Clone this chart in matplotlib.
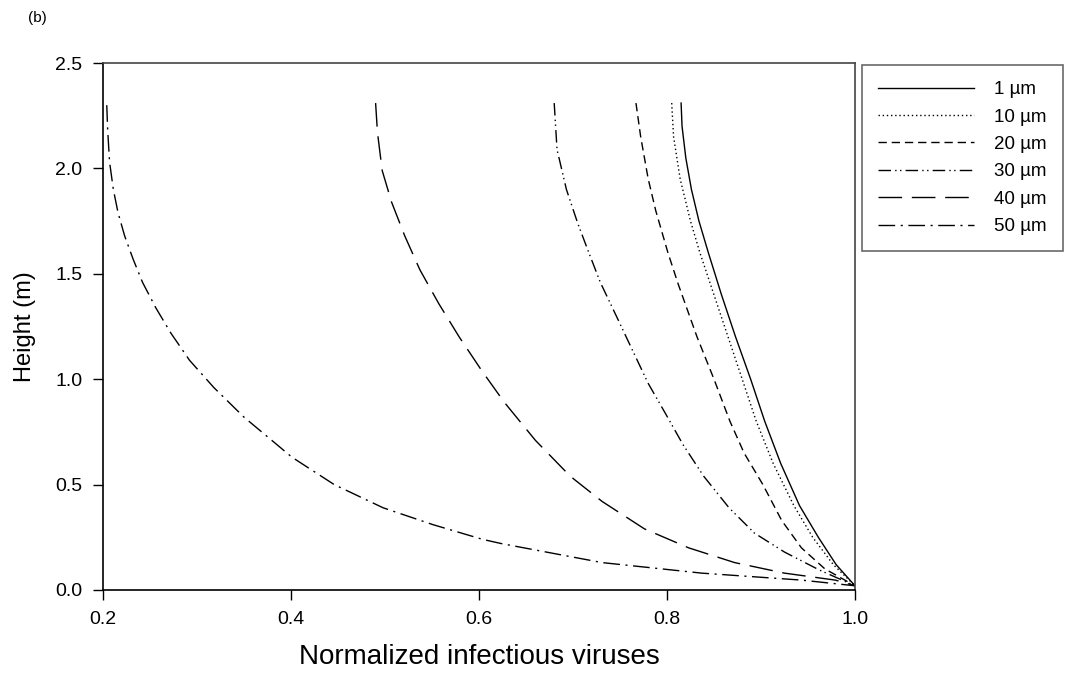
import matplotlib
matplotlib.use('Agg')
import matplotlib.pyplot as plt

plt.rcParams['font.family'] = ['Liberation Sans', 'DejaVu Sans']

labels = ['1 µm', '10 µm', '20 µm', '30 µm', '40 µm', '50 µm']

# (height, normalized infectious viruses)
h_1 = [2.31, 2.2, 2.05, 1.9, 1.75, 1.6, 1.4, 1.2, 1.0, 0.8, 0.6, 0.4, 0.25, 0.12, 0.02]
v_1 = [0.815, 0.816, 0.820, 0.826, 0.834, 0.844, 0.858, 0.873, 0.889, 0.904, 0.921, 0.941, 0.961, 0.980, 1.0]

h_10 = [2.31, 2.15, 1.95, 1.75, 1.6, 1.4, 1.2, 1.0, 0.8, 0.6, 0.4, 0.25, 0.12, 0.02]
v_10 = [0.805, 0.807, 0.814, 0.825, 0.835, 0.850, 0.865, 0.880, 0.895, 0.913, 0.935, 0.955, 0.977, 1.0]

h_20 = [2.31, 2.15, 1.95, 1.8, 1.6, 1.45, 1.2, 1.0, 0.8, 0.65, 0.5, 0.33, 0.2, 0.1, 0.02]
v_20 = [0.767, 0.772, 0.780, 0.788, 0.801, 0.812, 0.832, 0.850, 0.867, 0.882, 0.902, 0.922, 0.943, 0.968, 1.0]

h_30 = [2.31, 2.09, 1.9, 1.74, 1.61, 1.46, 1.31, 1.14, 0.98, 0.84, 0.69, 0.54, 0.39, 0.27, 0.18, 0.095, 0.02]
v_30 = [0.680, 0.683, 0.693, 0.705, 0.716, 0.729, 0.745, 0.763, 0.780, 0.798, 0.817, 0.839, 0.866, 0.893, 0.925, 0.962, 1.0]

h_40 = [2.31, 2.17, 1.99, 1.84, 1.68, 1.52, 1.36, 1.2, 1.04, 0.89, 0.71, 0.54, 0.42, 0.29, 0.2, 0.13, 0.08, 0.047, 0.02]
v_40 = [0.490, 0.492, 0.497, 0.507, 0.521, 0.537, 0.557, 0.579, 0.603, 0.627, 0.660, 0.697, 0.731, 0.776, 0.823, 0.872, 0.925, 0.979, 1.0]

h_50 = [2.30, 2.18, 2.03, 1.90, 1.79, 1.68, 1.57, 1.46, 1.34, 1.22, 1.09, 0.96, 0.82, 0.63, 0.50, 0.39, 0.31, 0.24, 0.22, 0.13, 0.08, 0.047, 0.02]
v_50 = [0.204, 0.205, 0.207, 0.211, 0.216, 0.223, 0.232, 0.242, 0.256, 0.272, 0.292, 0.318, 0.350, 0.401, 0.446, 0.498, 0.551, 0.604, 0.624, 0.731, 0.837, 0.943, 1.0]

heights = [h_1, h_10, h_20, h_30, h_40, h_50]
values = [v_1, v_10, v_20, v_30, v_40, v_50]
styles = ['-', (0, (1, 2)), (0, (6, 3.5)), (0, (9, 3, 1, 2.5, 1, 3)), (0, (17, 7)), (0, (12, 4, 1.5, 4))]

fig = plt.figure(figsize=(10.79, 6.74), dpi=100)
ax = fig.add_axes([103 / 1079, 1 - 590 / 674, (855 - 103) / 1079, (590 - 63) / 674])

for h, v, ls, lab in zip(heights, values, styles, labels):
    ax.plot(v, h, color='black', lw=1.0, linestyle=ls, label=lab)

ax.set_xlim(0.2, 1.0)
ax.set_ylim(0.0, 2.5)
ax.set_xticks([0.2, 0.4, 0.6, 0.8, 1.0])
ax.set_yticks([0.0, 0.5, 1.0, 1.5, 2.0, 2.5])
ax.xaxis.set_major_formatter(matplotlib.ticker.FormatStrFormatter('%.1f'))
ax.yaxis.set_major_formatter(matplotlib.ticker.FormatStrFormatter('%.1f'))
ax.tick_params(direction='out', length=7, width=1, labelsize=14, pad=8)
for side in ['left', 'bottom']:
    ax.spines[side].set_linewidth(1.2)
    ax.spines[side].set_color('black')
for side in ['top', 'right']:
    ax.spines[side].set_linewidth(1.2)
    ax.spines[side].set_color('#444444')

ax.set_xlabel('Normalized infectious viruses', fontsize=20, labelpad=12)
ax.set_ylabel('Height (m)', fontsize=17, labelpad=14)

leg = fig.legend(loc='upper left', bbox_to_anchor=(862 / 1079, 1 - 65 / 674),
                 bbox_transform=fig.transFigure, fontsize=13.5, handlelength=5.1,
                 fancybox=False, frameon=True, borderpad=0.85, labelspacing=0.55,
                 handletextpad=1.1, borderaxespad=0)
leg.get_frame().set_edgecolor('#444444')
leg.get_frame().set_linewidth(1.2)

fig.text(28 / 1079, 1 - 18 / 674, '(b)', fontsize=11, va='center', ha='left')

fig.savefig('out.png', dpi=100)
